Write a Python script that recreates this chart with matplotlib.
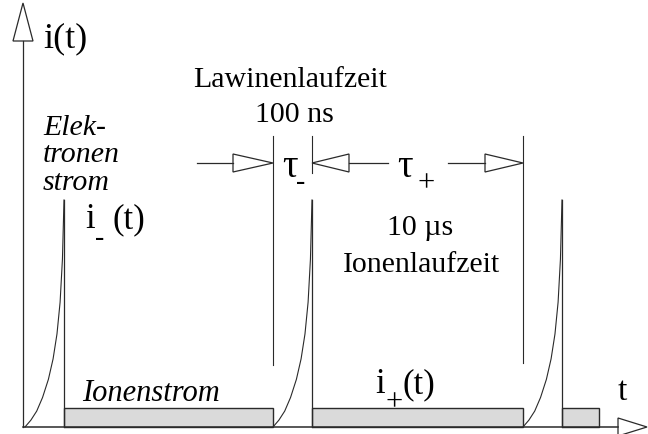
import numpy as np
import matplotlib
matplotlib.use('Agg')
import matplotlib.pyplot as plt
import matplotlib.patches as patch

# Zeitachse in willkürlichen Einheiten, Grundlinie bei 0
pulse_start = [2, 250, 500]          # Beginn der Lawine
rise_time = 39                       # Lawinenlaufzeit tau-
peak_height = 227                    # Spitze des Elektronenstroms
ion_height = 19                      # Höhe des Ionenstroms
ion_end = [250, 500, 576]            # Ende des jeweiligen Ionenstroms

# Form des Anstiegs (Anteil der Anstiegszeit -> Anteil der Spitzenhöhe)
rise_t = [0, 0.15, 0.3, 0.45, 0.6, 0.72, 0.82, 0.9, 0.96, 1.0]
rise_h = [0, 0.03, 0.07, 0.13, 0.21, 0.30, 0.41, 0.55, 0.74, 1.0]

# Markierungslinien für tau- und tau+
marker_x = [250, 289, 500]
marker_top = [291, 291, 291]
marker_bottom = [62, 254, 64]
dim_y = 264

line_col = '#2a2a2a'
serif = 'Liberation Serif'
plt.rcParams['hatch.linewidth'] = 0.4
plt.rcParams['hatch.color'] = '#7a7a7a'

fig = plt.figure(figsize=(6.48, 4.34), dpi=100)
ax = fig.add_axes([0, 0, 1, 1])
ax.set_xlim(-23, 625)
ax.set_ylim(-7, 427)
ax.axis('off')

# Achsen mit offenen Pfeilspitzen
ax.plot([0, 0], [0, 386], color=line_col, lw=0.9)
ax.add_patch(patch.Polygon([[-10, 386], [10, 386], [0, 424]], closed=True,
                           facecolor='white', edgecolor=line_col, lw=0.9))
ax.plot([0, 595], [0, 0], color=line_col, lw=1.1)
ax.add_patch(patch.Polygon([[595, -9], [595, 9], [624, 0]], closed=True,
                           facecolor='white', edgecolor=line_col, lw=0.9, clip_on=False))

# Elektronenstrompulse und Ionenstrom
for i, t0 in enumerate(pulse_start):
    xs = [t0 + rise_time * t for t in rise_t]
    ys = [peak_height * h for h in rise_h]
    ax.plot(xs, ys, color=line_col, lw=0.8)
    ax.plot([t0 + rise_time, t0 + rise_time], [peak_height, 0], color=line_col, lw=0.9)
    # gerasterte Fläche, Rand separat zeichnen
    ax.add_patch(patch.Rectangle((t0 + rise_time, 0), ion_end[i] - t0 - rise_time, ion_height,
                                 facecolor='#dadada', edgecolor='none', hatch='......'))
    ax.add_patch(patch.Rectangle((t0 + rise_time, 0), ion_end[i] - t0 - rise_time, ion_height,
                                 fill=False, edgecolor=line_col, lw=1.0))

for x, top, bottom in zip(marker_x, marker_top, marker_bottom):
    ax.plot([x, x], [bottom, top], color=line_col, lw=0.8)

# Maßpfeile
def hollow_arrow(x0, tip, length):
    d = np.sign(tip - x0)
    ax.plot([x0, tip - d * length], [dim_y, dim_y], color=line_col, lw=0.9)
    ax.add_patch(patch.Polygon([[tip - d * length, dim_y - 9], [tip - d * length, dim_y + 9],
                                [tip, dim_y]], closed=True, facecolor='white',
                               edgecolor=line_col, lw=0.9))

hollow_arrow(174, 250, 40)
hollow_arrow(365, 289, 37)
hollow_arrow(425, 500, 38)

# Beschriftung
ax.text(20, 380, 'i(t)', family=serif, fontsize=26, va='baseline')
ax.text(595, 27, 't', family=serif, fontsize=24, va='baseline')
ax.text(267, 340, 'Lawinenlaufzeit', family=serif, fontsize=21.5, ha='center', va='baseline')
ax.text(271, 305, '100 ns', family=serif, fontsize=21.5, ha='center', va='baseline')
ax.text(397, 192, '10 µs', family=serif, fontsize=21.5, ha='center', va='baseline')
ax.text(398, 155, 'Ionenlaufzeit', family=serif, fontsize=21.5, ha='center', va='baseline')

for label, y in zip(['Elek-', 'tronen', 'strom'], [292, 265, 237]):
    ax.text(20, y, label, family=serif, style='italic', fontsize=21.5, va='baseline')
ax.text(59, 26, 'Ionenstrom', family=serif, style='italic', fontsize=22, va='baseline')

# i-(t) und i+(t)
ax.text(62, 199, 'i', family=serif, fontsize=25, va='baseline')
ax.text(77, 188, '-', family=serif, fontsize=20, ha='center', va='center')
ax.text(90, 199, '(t)', family=serif, fontsize=25, va='baseline')
ax.text(352, 34, 'i', family=serif, fontsize=25, va='baseline')
ax.text(371, 24, '+', family=serif, fontsize=22, ha='center', va='center')
ax.text(380, 34, '(t)', family=serif, fontsize=25, va='baseline')

# tau- und tau+
ax.text(259, 250, 'τ', family=serif, fontsize=28, va='baseline')
ax.text(278, 245, '-', family=serif, fontsize=20, ha='center', va='center')
ax.text(374, 250, 'τ', family=serif, fontsize=28, va='baseline')
ax.text(403, 243, '+', family=serif, fontsize=22, ha='center', va='center')

fig.savefig('out.png', dpi=100, facecolor='white')
